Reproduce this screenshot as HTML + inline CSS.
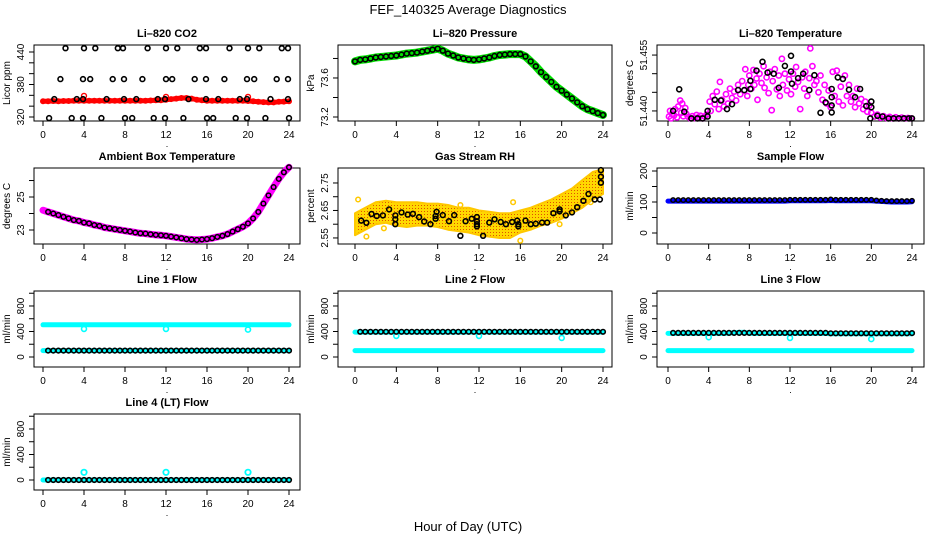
<!DOCTYPE html>
<html><head><meta charset="utf-8"><title>FEF_140325 Average Diagnostics</title>
<style>
html,body{margin:0;padding:0;background:#fff;}
svg{display:block;font-family:"Liberation Sans",sans-serif;}
</style></head>
<body>
<svg id="chart" width="936" height="540" viewBox="0 0 936 540" xmlns="http://www.w3.org/2000/svg">
<text x="468" y="14" text-anchor="middle" font-size="13">FEF_140325  Average Diagnostics</text>
<text x="468" y="531" text-anchor="middle" font-size="13">Hour of Day (UTC)</text>
</svg>
<script>
// ---------- data ----------
const H=[0,0.5,1,1.5,2,2.5,3,3.5,4,4.5,5,5.5,6,6.5,7,7.5,8,8.5,9,9.5,10,10.5,11,11.5,12,12.5,13,13.5,14,14.5,15,15.5,16,16.5,17,17.5,18,18.5,19,19.5,20,20.5,21,21.5,22,22.5,23,23.5,24];
const HR=[0,1,2,3,4,5,6,7,8,9,10,11,12,13,14,15,16,17,18,19,20,21,22,23,24];
const xTicks=[0,4,8,12,16,20,24];

// CO2
const co2Red=[349,349,349.5,349,349.5,349.5,350,350,350,350,350,350,350,350,350,350,350,350,350,350,350,350.5,351,351,352,353,354,355,355,354,352,351,350,350,350,350,350,350,350,350,349.5,349,348,347.5,347,347,348,348.5,349];
const co2RedOutH=[4.0,12.0,20.0];
const co2RedOutV=[359,357,357];
const co2BlkH=[2.2,4.0,5.1,7.3,7.8,10.2,12.0,13.1,15.3,15.9,18.2,20.0,21.1,23.3,23.9,
1.7,3.9,4.6,6.8,7.9,9.7,12.0,12.6,14.8,15.9,17.7,19.9,20.6,22.8,23.9,
1.1,3.3,3.9,6.2,7.9,9.1,11.2,11.9,14.2,15.9,17.1,19.2,19.9,22.2,23.9,
0.6,2.8,3.9,5.7,8.0,8.7,10.8,11.9,13.7,16.0,16.6,18.8,19.9,21.7,24.0];
const co2BlkV=[447,447,447,447,447,447,447,447,447,447,447,447,447,447,447,
390,390,390,390,390,390,390,390,390,390,390,390,390,390,390,
353,353,353,353,353,353,353,353,353,353,353,353,353,353,353,
318,318,318,318,318,318,318,318,318,318,318,318,318,318,318];

// Pressure
const presV=[73.77,73.785,73.79,73.80,73.81,73.815,73.82,73.825,73.83,73.84,73.85,73.855,73.86,73.87,73.88,73.89,73.90,73.88,73.85,73.83,73.81,73.80,73.79,73.785,73.79,73.80,73.81,73.825,73.835,73.84,73.845,73.845,73.845,73.82,73.77,73.72,73.66,73.61,73.56,73.51,73.47,73.43,73.39,73.35,73.31,73.28,73.26,73.24,73.22];

// Li-820 temperature
const ltMagH=[0.1,0.2,0.3,0.4,0.6,0.7,0.9,1.0,1.2,1.3,1.4,1.5,1.7,1.8,2.0,2.2,2.4,2.6,2.8,3.0,3.2,3.4,3.6,3.8,
4.1,4.2,4.4,4.6,4.8,5.0,5.1,5.3,5.5,5.7,5.9,6.1,6.3,6.5,6.7,6.9,7.1,7.3,7.5,7.6,7.8,7.9,
8.0,8.2,8.4,8.5,8.7,8.8,9.0,9.2,9.4,9.5,9.7,9.9,10.0,10.2,10.3,10.5,10.7,10.9,11.0,11.2,11.3,11.5,11.7,11.9,12.1,12.3,12.5,12.6,12.8,13.0,13.2,13.4,13.5,13.7,13.9,14.0,14.2,14.4,
14.6,14.8,15.0,15.2,15.4,15.6,15.8,16.0,16.2,16.4,16.6,16.8,17.0,17.2,17.4,17.6,17.8,18.0,18.2,18.4,18.6,18.8,19.0,19.2,19.4,19.6,19.8,
20.0,20.3,20.6,20.9,21.2,21.5,21.8,22.1,22.4,22.7,23.0,23.3,23.6,23.9];
const ltMagV=[51.4385,51.4400,51.4380,51.4392,51.4388,51.4405,51.4383,51.4412,51.4428,51.4395,51.4420,51.4386,51.4408,51.4392,51.4384,51.4380,51.4386,51.4381,51.4389,51.4383,51.4387,51.4380,51.4385,51.4390,
51.4425,51.4400,51.4440,51.4418,51.4452,51.4405,51.4478,51.4430,51.4412,51.4445,51.4420,51.4460,51.4435,51.4452,51.4428,51.4470,51.4445,51.4480,51.4455,51.4512,51.4440,51.4470,
51.4495,51.4460,51.4510,51.4470,51.4487,51.4430,51.4500,51.4475,51.4520,51.4462,51.4490,51.4448,51.4505,51.4402,51.4480,51.4512,51.4458,51.4495,51.4440,51.4540,51.4470,51.4500,51.4455,51.4485,51.4445,51.4500,51.4465,51.4518,51.4478,51.4405,51.4490,51.4460,51.4505,51.4440,51.4488,51.4568,51.4520,51.4470,
51.4480,51.4450,51.4495,51.4430,51.4470,51.4420,51.4455,51.4410,51.4505,51.4440,51.4508,51.4425,51.4465,51.4415,51.4495,51.4440,51.4470,51.4425,51.4440,51.4410,51.4460,51.4420,51.4432,51.4405,51.4425,51.4398,51.4415,
51.4395,51.4385,51.4390,51.4382,51.4386,51.4381,51.4384,51.4380,51.4383,51.4380,51.4382,51.4380,51.4381,51.4380];
const ltBlkH=[0.5,1.1,1.6,2.3,2.9,3.4,3.9,3.9,4.6,5.2,5.8,6.3,6.9,7.5,8.1,8.1,8.7,9.3,9.8,10.4,10.9,11.5,12.1,12.1,12.2,12.8,13.3,13.9,14.4,15.0,15.5,16.1,16.1,16.1,16.1,16.7,17.2,17.8,18.4,18.9,19.5,19.9,20.0,20.0,20.6,21.1,21.7,22.2,22.7,23.2,23.7,24.0];
const ltBlkV=[51.4400,51.4458,51.4398,51.4380,51.4380,51.4380,51.4385,51.4400,51.4430,51.4428,51.4405,51.4418,51.4456,51.4456,51.4481,51.4459,51.4508,51.4532,51.4503,51.4500,51.4462,51.4521,51.4548,51.4506,51.4473,51.4488,51.4500,51.4456,51.4496,51.4395,51.4423,51.4459,51.4437,51.4415,51.4396,51.4490,51.4486,51.4457,51.4437,51.4459,51.4413,51.4380,51.4425,51.4410,51.4387,51.4385,51.4380,51.4380,51.4380,51.4380,51.4380,51.4380];

// Ambient box temperature
const ambV=[24.2,24.1,24.0,23.9,23.8,23.7,23.6,23.55,23.45,23.4,23.3,23.25,23.15,23.1,23.05,23.0,22.95,22.9,22.85,22.8,22.78,22.74,22.7,22.68,22.65,22.6,22.55,22.5,22.45,22.42,22.4,22.42,22.45,22.5,22.58,22.65,22.75,22.9,23.05,23.2,23.4,23.7,24.1,24.6,25.1,25.6,26.1,26.5,26.8];

// Gas stream RH
const rhUpper=[2.64,2.66,2.68,2.685,2.68,2.68,2.68,2.675,2.675,2.67,2.66,2.66,2.65,2.645,2.64,2.64,2.65,2.66,2.675,2.69,2.71,2.73,2.76,2.79,2.80];
const rhLower=[2.56,2.58,2.60,2.605,2.595,2.59,2.595,2.595,2.59,2.58,2.575,2.57,2.56,2.555,2.55,2.55,2.57,2.58,2.595,2.605,2.62,2.64,2.66,2.69,2.71];
const rhOutH=[0.3,1.1,2.8,15.3,10.2,16.0,19.8,22.8];
const rhOutV=[2.69,2.555,2.585,2.68,2.67,2.54,2.60,2.68];
const rhBlkH=[0.6,1.1,1.6,2.1,2.7,3.3,3.9,3.9,3.9,4.5,5.1,5.6,6.2,6.7,7.3,7.8,7.8,7.9,8.5,9.1,9.6,10.2,10.7,11.3,11.8,11.8,11.8,11.8,12.4,13.0,13.5,14.1,14.6,15.2,15.7,15.8,15.8,16.5,17.0,17.5,18.1,18.6,19.2,19.8,19.8,20.4,21.0,21.5,22.1,22.6,23.2,23.7,23.8,23.8,23.8];
const rhBlkV=[2.613,2.605,2.637,2.630,2.632,2.654,2.632,2.618,2.600,2.643,2.635,2.638,2.626,2.610,2.600,2.630,2.620,2.645,2.633,2.611,2.633,2.558,2.611,2.620,2.626,2.611,2.600,2.592,2.558,2.606,2.618,2.608,2.600,2.608,2.613,2.600,2.592,2.613,2.600,2.602,2.606,2.606,2.640,2.654,2.647,2.632,2.643,2.662,2.685,2.710,2.690,2.690,2.797,2.773,2.751];

// Sample flow
const sfBlue=[103,103,103,103,103,103,103,103,103,103,103,103,103,103,103,103,103,103,103,103,103,103,103,103,104,104,104,104,104,104,104,104,105,104,104,104,104,104,104,104,104,103,102,101,100,100,100,100,101];
const sfBlack=[null,106,106,106,106,106,106,106,106,106,106,106,106,106,106,106,106,106,106,106,106,106,106,106,107,107,107,107,107,107,107,107,108,107,107,107,107,107,107,107,107,105,104,103,103,103,103,103,104];

// Line flows
const l1CyanHi=[505,505,505,505,505,505,505,505,505,505,505,505,505,505,505,505,505,505,505,505,505,505,505,505,505,505,505,505,505,505,505,505,505,505,505,505,505,505,505,505,505,505,505,505,505,505,505,505,505];
const l1CyanLo=[100,100,100,100,100,100,100,100,100,100,100,100,100,100,100,100,100,100,100,100,100,100,100,100,100,100,100,100,100,100,100,100,100,100,100,100,100,100,100,100,100,100,100,100,100,100,100,100,100];
const l1Black=[null,100,100,100,100,100,100,100,100,100,100,100,100,100,100,100,100,100,100,100,100,100,100,100,100,100,100,100,100,100,100,100,100,100,100,100,100,100,100,100,100,100,100,100,100,100,100,100,100];
const l1DipH=[4,12,20];
const l1DipV=[440,440,430];

const l2Cyan=[390,390,390,390,390,390,390,390,390,390,390,390,390,390,390,390,390,390,390,390,390,390,390,390,390,390,390,390,390,390,390,390,390,390,390,390,390,390,390,390,390,390,390,390,390,390,390,390,390];
const l2CyanLo=[100,100,100,100,100,100,100,100,100,100,100,100,100,100,100,100,100,100,100,100,100,100,100,100,100,100,100,100,100,100,100,100,100,100,100,100,100,100,100,100,100,100,100,100,100,100,100,100,100];
const l2Black=[null,395,395,395,395,395,395,395,395,395,395,395,395,395,395,395,395,395,395,395,395,395,395,395,395,395,395,395,395,395,395,395,395,395,395,395,395,395,395,395,395,395,395,395,395,395,395,395,395];
const l2DipH=[4,12,20];
const l2DipV=[330,330,300];

const l3Cyan=[370,370,370,370,370,370,370,370,370,370,370,370,375,380,385,385,375,370,370,370,370,370,370,370,370,370,370,370,370,370,370,370,365,365,365,365,365,365,365,365,365,365,365,365,365,365,365,365,365];
const l3CyanLo=[100,100,100,100,100,100,100,100,100,100,100,100,100,100,100,100,100,100,100,100,100,100,100,100,100,100,100,100,100,100,100,100,100,100,100,100,100,100,100,100,100,100,100,100,100,100,100,100,100];
const l3Black=[null,378,378,378,378,378,378,378,378,378,378,378,378,378,378,378,378,378,378,378,378,378,378,378,378,378,378,378,378,378,378,378,372,372,372,372,372,372,372,372,372,372,372,372,372,372,372,372,375];
const l3DipH=[4,12,20];
const l3DipV=[310,300,280];

const l4Cyan=[0,0,0,0,0,0,0,0,0,0,0,0,0,0,0,0,0,0,0,0,0,0,0,0,0,0,0,0,0,0,0,0,0,0,0,0,0,0,0,0,0,0,0,0,0,0,0,0,0];
const l4Black=[null,0,0,0,0,0,0,0,0,0,0,0,0,0,0,0,0,0,0,0,0,0,0,0,0,0,0,0,0,0,0,0,0,0,0,0,0,0,0,0,0,0,0,0,0,0,0,0,0];
const l4SpikeH=[4,12,20];
const l4SpikeV=[120,120,120];

// ---------- layout ----------
const NS="http://www.w3.org/2000/svg";
const svg=document.getElementById('chart');
const COLS=[{bl:34,br:300,x0:43,x1:289},{bl:338,br:612,x0:355,x1:603},{bl:657,br:924,x0:668,x1:912}];
const ROWS=[45,168,291,414];
const BH=76;

function el(tag,attrs,parent){const e=document.createElementNS(NS,tag);for(const k in attrs)e.setAttribute(k,attrs[k]);(parent||svg).appendChild(e);return e;}

function panel(name,title,col,row,vTop,vBot,ticks,labels,ylab){
  const c=COLS[col],top=ROWS[row],bot=top+BH;
  const g=el('g',{});
  
  
  const X=h=>c.x0+h*(c.x1-c.x0)/24;
  const Y=v=>top+(vTop-v)/(vTop-vBot)*BH;
  const t=el('text',{x:(c.bl+c.br)/2,y:top-8,'text-anchor':'middle','font-size':'11','font-weight':'bold'},g);
  t.textContent=title;
  
  
  const box=el('rect',{x:c.bl,y:top,width:c.br-c.bl,height:BH,fill:'none',stroke:'#000','stroke-width':1},g);
  
  
  const data=el('g',{},g);
  
  
  const ax=el('g',{},g);
  
  
  xTicks.forEach(h=>{
    el('line',{x1:X(h),x2:X(h),y1:bot,y2:bot+5,stroke:'#000'},ax);
    const tl=el('text',{x:X(h),y:bot+17,'text-anchor':'middle','font-size':'10'},ax);
    tl.textContent=h;
    
    
  });
  const dot=el('text',{x:(c.bl+c.br)/2,y:bot+26,'text-anchor':'middle','font-size':'9'},ax);
  dot.textContent='.';
  ticks.forEach(v=>{
    const y=Y(v);
    el('line',{x1:c.bl-5,x2:c.bl,y1:y,y2:y,stroke:'#000'},ax);
  });
  labels.forEach(l=>{
    const y=Y(l.v),xx=c.bl-10;
    const tl=el('text',{x:xx,y:y,'text-anchor':'middle','font-size':'10',transform:`rotate(-90 ${xx} ${y})`},ax);
    tl.textContent=l.s;
    
    
  });
  const yt=el('text',{x:c.bl-24,y:top+BH/2,'text-anchor':'middle','font-size':'10',transform:`rotate(-90 ${c.bl-24} ${top+BH/2})`},ax);
  yt.textContent=ylab;
  
  
  return {X,Y,g:data};
}

function band(p,xs,ys,color,w,name){
  const pts=[];xs.forEach((h,i)=>{if(ys[i]!=null)pts.push(p.X(h).toFixed(1)+','+p.Y(ys[i]).toFixed(1));});
  const l=el('polyline',{points:pts.join(' '),fill:'none',stroke:color,'stroke-width':w,'stroke-linejoin':'round','stroke-linecap':'round'},p.g);
  
  
}
function dots(p,xs,ys,color,r,sw,name){
  xs.forEach((h,i)=>{
    if(ys[i]==null)return;
    const c=el('circle',{cx:p.X(h).toFixed(1),cy:p.Y(ys[i]).toFixed(1),r:r,fill:'none',stroke:color,'stroke-width':sw},p.g);
    
    
  });
}
function flowTicks(){return [0,200,400,600,800,1000];}
function flowLabels(){return [{v:0,s:'0'},{v:400,s:'400'},{v:800,s:'800'}];}

// CO2
let p=panel('co2','Li\u2013820 CO2',0,0,452.9,312.6,[320,340,360,380,400,420,440],[{v:320,s:'320'},{v:380,s:'380'},{v:440,s:'440'}],'Licor ppm');
band(p,H,co2Red,'#ff0000',5,'co2-red-band');
dots(p,H,co2Red,'#ff0000',2.3,1.4,'co2-red-point');
dots(p,co2RedOutH,co2RedOutV,'#ff0000',2.5,1.4,'co2-red-outlier');
dots(p,co2BlkH,co2BlkV,'#000',2.4,1.6,'co2-black-point');

// Pressure
p=panel('pressure','Li\u2013820 Pressure',1,0,73.938,73.159,[73.2,73.4,73.6,73.8],[{v:73.2,s:'73.2'},{v:73.6,s:'73.6'}],'kPa');
band(p,H,presV,'#00e000',8,'pressure-green-band');
dots(p,H,presV,'#000',2.4,1.6,'pressure-black-point');

// Li-820 temperature
p=panel('li820-temp','Li\u2013820 Temperature',2,0,51.4577,51.4373,[51.440,51.445,51.450,51.455],[{v:51.440,s:'51.440'},{v:51.455,s:'51.455'}],'degrees C');
dots(p,ltMagH,ltMagV,'#ff00ff',2.6,1.6,'temp-magenta-point');
dots(p,ltBlkH,ltBlkV,'#000',2.5,1.6,'temp-black-point');

// Ambient
p=panel('ambient-temp','Ambient Box Temperature',0,1,26.76,22.15,[23,24,25,26],[{v:23,s:'23'},{v:25,s:'25'}],'degrees C');
band(p,H,ambV,'#ff00ff',7,'ambient-magenta-band');
dots(p,H.slice(1),ambV.slice(1),'#000',2.3,1.5,'ambient-black-point');

// RH
p=panel('rh','Gas Stream RH',1,1,2.8045,2.528,[2.55,2.60,2.65,2.70,2.75],[{v:2.55,s:'2.55'},{v:2.65,s:'2.65'},{v:2.75,s:'2.75'}],'percent');
(function(){
  const defs=el('defs',{});
  const pat=el('pattern',{id:'rhpat',width:3,height:3,patternUnits:'userSpaceOnUse'},defs);
  el('rect',{x:0,y:0,width:3,height:3,fill:'#ffd800'},pat);
  el('rect',{x:1,y:1,width:1,height:1,fill:'#e05000'},pat);
  const pts=[];
  HR.forEach((h,i)=>pts.push(p.X(h).toFixed(1)+','+p.Y(rhUpper[i]).toFixed(1)));
  for(let i=HR.length-1;i>=0;i--)pts.push(p.X(HR[i]).toFixed(1)+','+p.Y(rhLower[i]).toFixed(1));
  const poly=el('polygon',{points:pts.join(' '),fill:'url(#rhpat)',stroke:'#ffc800','stroke-width':2,'stroke-linejoin':'round'},p.g);
  
  
})();
dots(p,rhOutH,rhOutV,'#ffc800',2.3,1.5,'rh-yellow-outlier');
dots(p,rhBlkH,rhBlkV,'#000',2.4,1.6,'rh-black-point');

// Sample flow
p=panel('sample-flow','Sample Flow',2,1,209.7,-35.5,[0,50,100,150,200],[{v:0,s:'0'},{v:100,s:'100'},{v:200,s:'200'}],'ml/min');
band(p,H,sfBlue,'#0000ff',5,'sample-blue-band');
dots(p,H,sfBlack,'#000',2.2,1.5,'sample-black-point');

// Line 1
p=panel('line1-flow','Line 1 Flow',0,2,1035,-157,flowTicks(),flowLabels(),'ml/min');
band(p,H,l1CyanHi,'#00ffff',5,'line1-cyan-high');
band(p,H,l1CyanLo,'#00ffff',5,'line1-cyan-low');
dots(p,l1DipH,l1DipV,'#00ffff',2.5,1.6,'line1-cyan-dip');
dots(p,H,l1Black,'#000',2.3,1.6,'line1-black-point');

// Line 2
p=panel('line2-flow','Line 2 Flow',1,2,1035,-157,flowTicks(),flowLabels(),'ml/min');
band(p,H,l2Cyan,'#00ffff',5,'line2-cyan-high');
band(p,H,l2CyanLo,'#00ffff',5,'line2-cyan-low');
dots(p,l2DipH,l2DipV,'#00ffff',2.5,1.6,'line2-cyan-dip');
dots(p,H,l2Black,'#000',2.3,1.6,'line2-black-point');

// Line 3
p=panel('line3-flow','Line 3 Flow',2,2,1035,-157,flowTicks(),flowLabels(),'ml/min');
band(p,H,l3Cyan,'#00ffff',5,'line3-cyan-high');
band(p,H,l3CyanLo,'#00ffff',5,'line3-cyan-low');
dots(p,l3DipH,l3DipV,'#00ffff',2.5,1.6,'line3-cyan-dip');
dots(p,H,l3Black,'#000',2.3,1.6,'line3-black-point');

// Line 4
p=panel('line4-flow','Line 4 (LT) Flow',0,3,1035,-157,flowTicks(),flowLabels(),'ml/min');
band(p,H,l4Cyan,'#00ffff',5,'line4-cyan-band');
dots(p,l4SpikeH,l4SpikeV,'#00ffff',2.7,1.8,'line4-cyan-spike');
dots(p,H,l4Black,'#000',2.3,1.6,'line4-black-point');
</script>
</body></html>
